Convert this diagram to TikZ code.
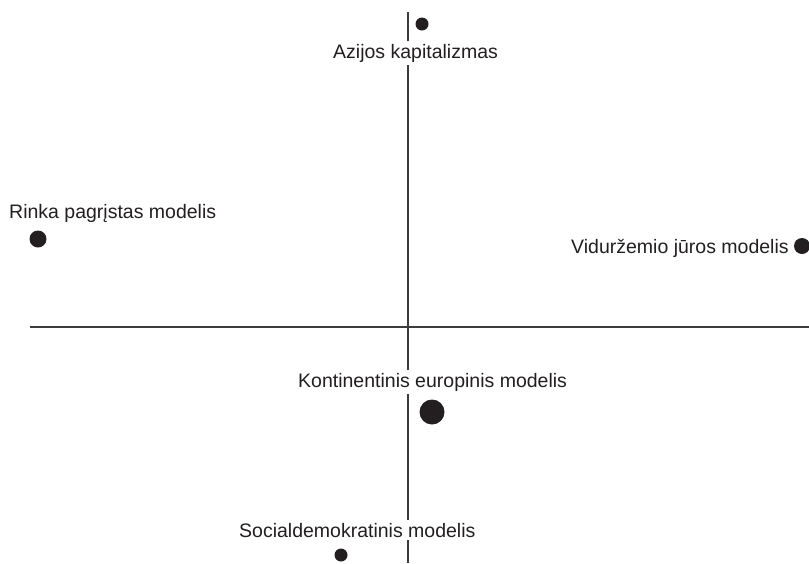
\documentclass[tikz,border=0pt]{standalone}
\usepackage{fontspec}
\setmainfont{Liberation Sans}
\usepackage{xcolor}
\usepackage{tikz}
\definecolor{axisgray}{RGB}{60,60,60}
\definecolor{inkblack}{RGB}{35,31,32}

\begin{document}
\begin{tikzpicture}[x=1pt, y=-1pt,
  dot/.style={circle, fill=inkblack, inner sep=0pt, minimum size=#1},
  model/.style={anchor=base west, fill=white, inner xsep=1pt, inner ysep=3pt,
    text=inkblack, font=\fontsize{19.5}{23}\selectfont},
  axis/.style={draw=axisgray, line width=1.3pt}]
\useasboundingbox (0,0) rectangle (809,563);

% axes
\coordinate (top) at (408,12);
\coordinate (bottom) at (408,563);
\coordinate (left) at (30,327);
\coordinate (right) at (809,327);
\draw[axis] (top) -- (bottom);
\draw[axis] (left) -- (right);

% models
\node[model] (asia) at (332,58) {Azijos kapitalizmas};
\node[dot=13pt] (asiadot) at (422,24) {};

\node[model] (market) at (8,218) {Rinka pagrįstas modelis};
\node[dot=17pt] (marketdot) at (38,239) {};

\node[model] (medit) at (570,253) {Viduržemio jūros modelis};
\node[dot=16pt] (meditdot) at (802,246) {};

\node[model] (cont) at (297,387) {Kontinentinis europinis modelis};
\node[dot=25pt] (contdot) at (432,412) {};

\node[model] (social) at (238,537) {Socialdemokratinis modelis};
\node[dot=13pt] (socialdot) at (341,555) {};
\end{tikzpicture}
\end{document}
